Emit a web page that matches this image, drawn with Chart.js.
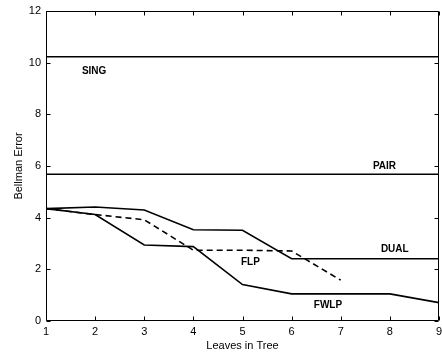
<!DOCTYPE html>
<html>
<head>
<meta charset="utf-8">
<script src="https://cdn.jsdelivr.net/npm/chart.js@4.4.0/dist/chart.umd.min.js"></script>
<style>
  html, body { margin: 0; padding: 0; background: #fff; overflow: hidden; }
</style>
</head>
<body>
<canvas id="myChart" width="442" height="354"></canvas>
<script>
// values
let leaves = [1, 2, 3, 4, 5, 6, 7, 8, 9]
let sing = [10.23, 10.23, 10.23, 10.23, 10.23, 10.23, 10.23, 10.23, 10.23]
let pair = [5.68, 5.68, 5.68, 5.68, 5.68, 5.68, 5.68, 5.68, 5.68]
let dual = [4.35, 4.41, 4.30, 3.53, 3.51, 2.41, 2.41, 2.41, 2.41]
let flp = [4.35, 4.12, 3.92, 2.74, 2.74, 2.71, 1.58]
let fwlp = [4.35, 4.12, 2.94, 2.88, 1.41, 1.05, 1.05, 1.05, 0.71]
let yTicks = [0, 2, 4, 6, 8, 10, 12]

// text labels placed in data units
let curveLabels = [
  { text: 'SING', x: 1.98, y: 9.68 },
  { text: 'PAIR', x: 7.89, y: 6.0 },
  { text: 'DUAL', x: 8.1, y: 2.76 },
  { text: 'FLP', x: 5.16, y: 2.27 },
  { text: 'FWLP', x: 6.74, y: 0.61 }
]

function pts(arr) {
  return arr.map((v, i) => ({ x: leaves[i], y: v }))
}

function line(arr, dash) {
  return {
    data: pts(arr),
    borderColor: '#000',
    borderWidth: 1.6,
    borderDash: dash || [],
    pointRadius: 0,
    tension: 0,
    fill: false
  }
}

// box + inward ticks on all four sides, and the curve labels
const boxPlugin = {
  id: 'box',
  afterDraw(chart) {
    const c = chart.ctx
    const a = chart.chartArea
    const xs = chart.scales.x
    const ys = chart.scales.y
    const L = Math.round(a.left) + 0.5, R = Math.round(a.right) - 0.5
    const T = Math.round(a.top) + 0.5, B = Math.round(a.bottom) - 0.5
    c.save()
    c.setLineDash([])
    c.globalAlpha = 1
    c.strokeStyle = '#000'
    c.lineWidth = 1
    c.beginPath()
    c.moveTo(L, T); c.lineTo(R, T); c.lineTo(R, B); c.lineTo(L, B); c.closePath()
    leaves.forEach(v => {
      let px = Math.round(xs.getPixelForValue(v)) + 0.5
      c.moveTo(px, B); c.lineTo(px, B - 4)
      c.moveTo(px, T); c.lineTo(px, T + 4)
    })
    yTicks.forEach(v => {
      let py = Math.round(ys.getPixelForValue(v)) + 0.5
      c.moveTo(L, py); c.lineTo(L + 4, py)
      c.moveTo(R, py); c.lineTo(R - 4, py)
    })
    c.stroke()
    c.fillStyle = '#000'
    c.font = 'bold 10px "Liberation Sans", Arial, sans-serif'
    c.textAlign = 'center'
    c.textBaseline = 'middle'
    curveLabels.forEach(l => {
      c.fillText(l.text, xs.getPixelForValue(l.x), ys.getPixelForValue(l.y))
    })
    c.restore()
  }
}

var ctx = document.getElementById('myChart').getContext('2d')
var chart = new Chart(ctx, {
  type: 'line',
  data: {
    datasets: [
      line(sing),
      line(pair),
      line(dual),
      line(flp, [6, 4]),
      line(fwlp)
    ]
  },
  plugins: [boxPlugin],
  options: {
    responsive: false,
    animation: false,
    devicePixelRatio: 1,
    layout: { padding: { top: 11, right: 3, left: 0, bottom: 0 } },
    plugins: { legend: { display: false }, tooltip: { enabled: false } },
    scales: {
      x: {
        type: 'linear',
        min: 1,
        max: 9,
        grid: { display: false, drawTicks: false },
        border: { display: false },
        afterBuildTicks: s => { s.ticks = leaves.map(v => ({ value: v })) },
        afterFit: s => { s.height = 33; s.paddingLeft = 0; s.paddingRight = 0 },
        ticks: { color: '#000', padding: 4, maxRotation: 0, font: { family: '"Liberation Sans", Arial, sans-serif', size: 11 } },
        title: { display: true, text: 'Leaves in Tree', color: '#000', padding: { top: 3, bottom: 1 }, font: { family: '"Liberation Sans", Arial, sans-serif', size: 11 } }
      },
      y: {
        min: 0,
        max: 12,
        grid: { display: false, drawTicks: false },
        border: { display: false },
        afterBuildTicks: s => { s.ticks = yTicks.map(v => ({ value: v })) },
        afterFit: s => { s.width = 46; s.paddingTop = 0; s.paddingBottom = 0 },
        ticks: { color: '#000', padding: 5, font: { family: '"Liberation Sans", Arial, sans-serif', size: 11 } },
        title: { display: true, text: 'Bellman Error', color: '#000', padding: { top: 12, bottom: 0 }, font: { family: '"Liberation Sans", Arial, sans-serif', size: 11 } }
      }
    }
  }
})
</script>
</body>
</html>
